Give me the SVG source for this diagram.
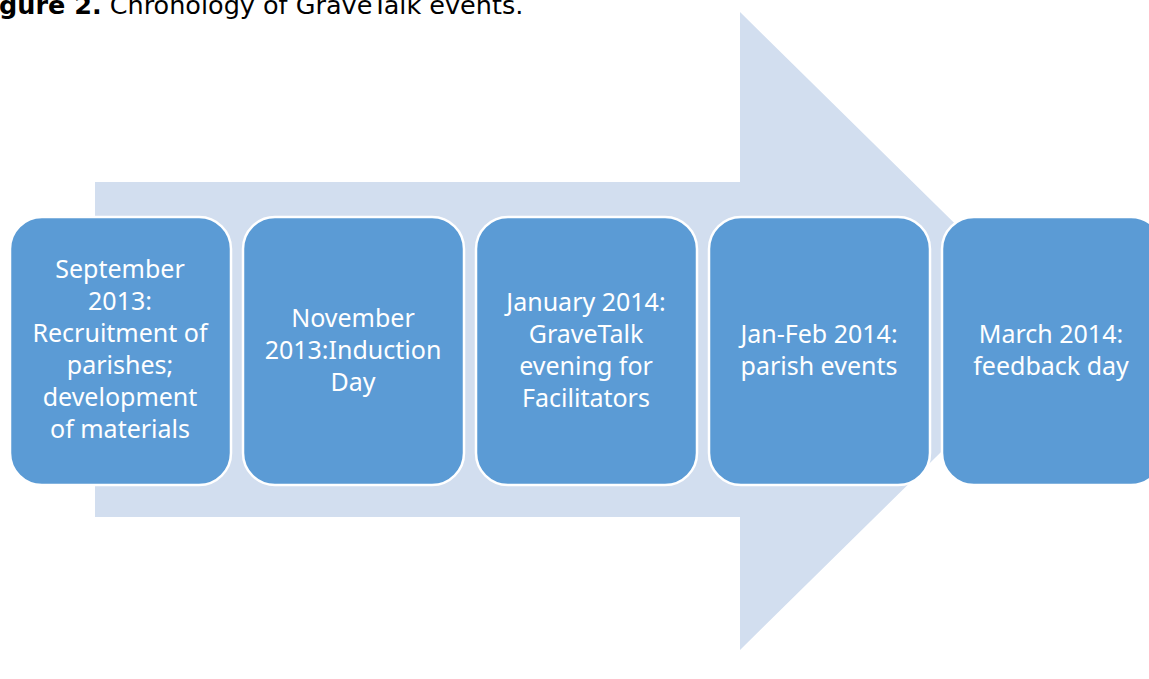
<svg xmlns="http://www.w3.org/2000/svg" width="1149" height="679" viewBox="0 0 1149 679">
<style>
.box{fill:#5B9BD5;stroke:#FFFFFF;stroke-width:2.5}
.lbl{font-family:"Noto Sans","Open Sans",sans-serif;font-size:25px;fill:#FFFFFF;text-anchor:middle}
.cap{font-family:"DejaVu Sans",Verdana,sans-serif;font-size:25.5px;fill:#000000}
</style>
<rect width="1149" height="679" fill="#FFFFFF"/>
<text class="cap" x="-1" y="14"><tspan font-weight="bold">gure 2.</tspan> Chronology of GraveTalk events.</text>
<g id="connectors">
<polygon points="95,182 740,182 740,12 1064,331 740,650 740,517 95,517" fill="#D2DEEF"/>
</g>
<g id="n1">
<rect class="box" x="10" y="217" width="221" height="268" rx="32"/>
<text class="lbl"><tspan x="120" y="278">September</tspan><tspan x="120" y="310">2013:</tspan><tspan x="120" y="342">Recruitment of</tspan><tspan x="120" y="374">parishes;</tspan><tspan x="120" y="406">development</tspan><tspan x="120" y="438">of materials</tspan></text>
</g>
<g id="n2">
<rect class="box" x="243" y="217" width="221" height="268" rx="32"/>
<text class="lbl"><tspan x="353" y="327">November</tspan><tspan x="353" y="359">2013:Induction</tspan><tspan x="353" y="391">Day</tspan></text>
</g>
<g id="n3">
<rect class="box" x="476" y="217" width="221" height="268" rx="32"/>
<text class="lbl"><tspan x="586" y="311">January 2014:</tspan><tspan x="586" y="343">GraveTalk</tspan><tspan x="586" y="375">evening for</tspan><tspan x="586" y="407">Facilitators</tspan></text>
</g>
<g id="n4">
<rect class="box" x="709" y="217" width="221" height="268" rx="32"/>
<text class="lbl"><tspan x="819" y="343">Jan-Feb 2014:</tspan><tspan x="819" y="375">parish events</tspan></text>
</g>
<g id="n5">
<rect class="box" x="942" y="217" width="221" height="268" rx="32"/>
<text class="lbl"><tspan x="1051" y="343">March 2014:</tspan><tspan x="1051" y="375">feedback day</tspan></text>
</g>
</svg>
